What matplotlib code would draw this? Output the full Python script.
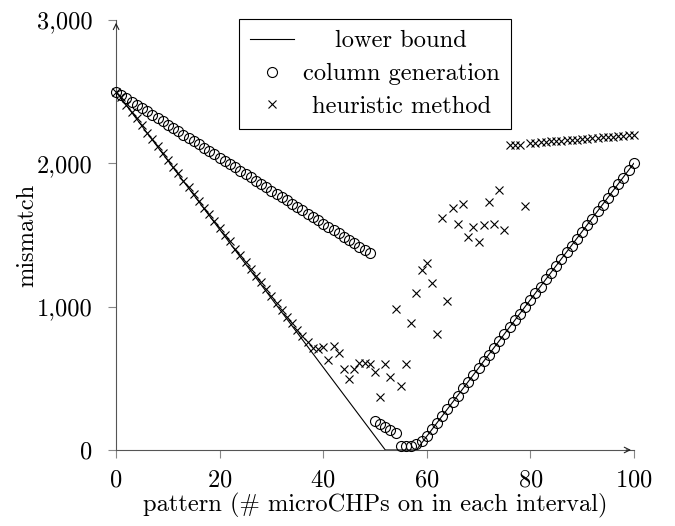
import matplotlib

matplotlib.use("Agg")
import matplotlib.pyplot as plt  # noqa: E402
import numpy as np  # noqa: E402

# Computer Modern (ships with matplotlib) to match the LaTeX/pgfplots look
plt.rcParams["font.family"] = ["cmr10", "DejaVu Serif"]
plt.rcParams["axes.unicode_minus"] = False
plt.rcParams["axes.formatter.use_mathtext"] = True

# lower bound (piecewise linear)
lb_x = [0, 52, 58, 100]
lb_y = [2500, 0, 0, 2000]

# column generation, one point per pattern 0..100
cg_y = [2500, 2477, 2454, 2431, 2408, 2385, 2362, 2339, 2316, 2293,
        2270, 2247, 2224, 2201, 2178, 2155, 2132, 2109, 2086, 2063,
        2040, 2017, 1994, 1971, 1948, 1925, 1902, 1879, 1856, 1833,
        1810, 1787, 1764, 1741, 1718, 1695, 1672, 1649, 1626, 1603,
        1580, 1557, 1534, 1511, 1488, 1465, 1442, 1419, 1396, 1373,
        200, 180, 160, 140, 120, 30, 30, 30, 40, 60,
        100, 145, 190, 240, 285, 335, 380, 430, 475, 525,
        570, 620, 665, 715, 760, 810, 855, 905, 950, 1000,
        1045, 1095, 1140, 1190, 1235, 1285, 1330, 1380, 1425, 1475,
        1520, 1570, 1615, 1665, 1710, 1760, 1805, 1855, 1900, 1950,
        2000]

# heuristic method, one point per pattern 0..100
hm_y = [2500, 2460, 2410, 2360, 2315, 2265, 2215, 2170, 2120, 2075,
        2025, 1975, 1930, 1880, 1835, 1785, 1740, 1690, 1645, 1595,
        1550, 1500, 1455, 1405, 1360, 1310, 1265, 1215, 1170, 1120,
        1075, 1025, 980, 930, 885, 840, 795, 750, 715, 707,
        718, 629, 723, 676, 566, 496, 566, 606, 606, 597,
        543, 372, 597, 512, 987, 449, 601, 887, 1097, 1256,
        1308, 1168, 807, 1619, 1041, 1685, 1579, 1713, 1483, 1556,
        1451, 1572, 1729, 1579, 1813, 1533, 2127, 2127, 2130, 1701,
        2142, 2145, 2148, 2150, 2153, 2156, 2158, 2161, 2164, 2166,
        2169, 2172, 2175, 2178, 2181, 2184, 2187, 2190, 2193, 2196,
        2199]

patterns = np.arange(len(cg_y))

x_ticks = [0, 20, 40, 60, 80, 100]
y_ticks = [0, 1000, 2000, 3000]
y_ticklabels = ["0", "1,000", "2,000", "3,000"]

FS = 17.6

fig = plt.figure(figsize=(6.75, 5.26), dpi=100)
ax = fig.add_axes([0.172, 0.1445, 0.767, 0.8175])

ax.plot(lb_x, lb_y, color="black", lw=0.8, label="lower bound", zorder=2)
ax.plot(patterns, cg_y, ls="none", marker="o", ms=7.2, mfc="none",
        mec="black", mew=0.8, label="column generation", clip_on=False,
        zorder=3)
ax.plot(patterns, hm_y, ls="none", marker="x", ms=5.3, mec="black",
        mew=0.8, label="heuristic method", clip_on=False, zorder=3)

ax.set_xlim(0, 100)
ax.set_ylim(0, 3000)
ax.set_xticks(x_ticks)
ax.set_yticks(y_ticks)
ax.set_yticklabels(y_ticklabels)
ax.tick_params(axis="both", direction="out", length=6, width=0.8,
               color="#888888", labelsize=FS)
ax.tick_params(axis="x", pad=8)
ax.tick_params(axis="y", pad=11)

for s in ("top", "right"):
    ax.spines[s].set_visible(False)
for s in ("left", "bottom"):
    ax.spines[s].set_color("#555555")
    ax.spines[s].set_linewidth(0.8)

# axis arrows (pgfplots style)
ax.annotate("", xy=(1.0, 0), xytext=(0.98, 0), xycoords="axes fraction",
            arrowprops=dict(arrowstyle="->", color="#222222", lw=0.8))
ax.annotate("", xy=(0, 1.0), xytext=(0, 0.98), xycoords="axes fraction",
            arrowprops=dict(arrowstyle="->", color="#222222", lw=0.8))

ax.set_xlabel("pattern (# microCHPs on in each interval)", fontsize=FS,
              labelpad=1)
ax.set_ylabel("mismatch", fontsize=FS, labelpad=-1)

leg = ax.legend(loc="upper center", bbox_to_anchor=(0.5, 1.002),
                fontsize=FS, frameon=True, fancybox=False, framealpha=1,
                edgecolor="black", borderpad=0.45, labelspacing=0.44,
                handlelength=1.8, handletextpad=0.35, borderaxespad=0)
leg.get_frame().set_linewidth(0.8)

# centre the legend labels like pgfplots does
fig.canvas.draw()
renderer = fig.canvas.get_renderer()
texts = leg.get_texts()
widths = [t.get_window_extent(renderer).width for t in texts]
wmax = max(widths)
for t, w in zip(texts, widths):
    t.set_position(((wmax - w) / 2, 0))

fig.savefig("out.png", dpi=100)
